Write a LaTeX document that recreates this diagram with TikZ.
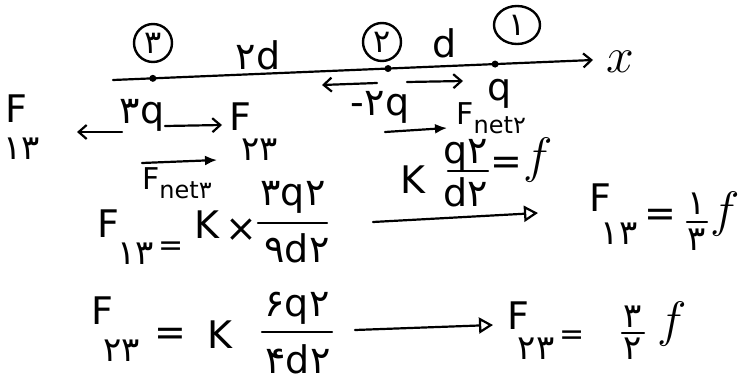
\documentclass[tikz,border=0pt]{standalone}
\usepackage{fontspec}
\setmainfont{DejaVu Sans}
\newfontfamily\fa[Script=Arabic]{DejaVu Sans}
\usetikzlibrary{arrows.meta, positioning, shapes.geometric, calc}
% Persian digits
\newcommand{\pd}[1]{{\fa #1}}

\tikzset{
    lbl/.style={font=\fontsize{19}{21}\selectfont, inner sep=0pt},
    small/.style={font=\fontsize{15}{16}\selectfont, inner sep=0pt},
    sub/.style={font=\fontsize{17}{18}\selectfont, inner sep=0pt},
    funit/.style={font=\fontsize{27}{28}\selectfont, inner sep=0pt},
    numtag/.style={circle, draw, line width=1.2pt, minimum size=19pt, inner sep=0pt, font=\fontsize{16}{17}\selectfont},
    charge/.style={circle, fill, inner sep=0pt, minimum size=3.5pt},
    force/.style={line width=1.1pt, -{Straight Barb[length=4pt, width=7pt]}},
    implies/.style={line width=1.1pt, -{Triangle[open, length=7pt, width=8pt, line width=1.1pt]}},
    netarr/.style={line width=1.1pt, -{Latex[length=6pt, width=5pt]}},
    fracbar/.style={line width=1.1pt}
}

\begin{document}
\begin{tikzpicture}[x=0.5pt, y=-0.5pt, line cap=round]
    \useasboundingbox (0,0) rectangle (744,385);

    % x axis and the three charges on it
    \coordinate (axL) at (113,80);
    \coordinate (axR) at (593,60);
    \draw[force] (axL) -- (axR);
    \node[funit] (xlab) at (620,62) {$x$};
    \foreach \t/\n in {0.083/3, 0.573/2, 0.796/1} {
        \node[charge] (q\n) at ($(axL)!\t!(axR)$) {};
    }

    % charge numbers and distances
    \node[numtag] (n3) at (153,43) {\pd{۳}};
    \node[numtag] (n2) at (382,42) {\pd{۲}};
    \node[numtag, ellipse, minimum width=23pt, minimum height=19pt] (n1) at (517,25) {\pd{۱}};
    \node[lbl] (d32) at (258,55) {\pd{۲}d};
    \node[lbl] (d21) at (445,43) {d};

    % charge values
    \node[lbl] (l3) at (142,115) {\pd{۳}q};
    \node[lbl] (l2) at (380,107) {-\pd{۲}q};
    \node[lbl] (l1) at (500,94) {q};

    % forces on charge 3
    \coordinate (s13) at (122,132);
    \coordinate (t13) at (77,132);
    \coordinate (s23) at (165,126);
    \coordinate (t23) at (222,125);
    \draw[force] (s13) -- (t13);
    \draw[force] (s23) -- (t23);
    \node[lbl] (F13L) at (16,109) {F};
    \node[sub] (F13Ls) at (22,149) {\pd{۱۳}};
    \node[lbl] (F23L) at (240,117) {F};
    \node[sub] (F23Ls) at (260,150) {\pd{۲۳}};
    \coordinate (sn3) at (142,163);
    \coordinate (tn3) at (217,160);
    \draw[netarr] (sn3) -- (tn3);
    \node[small] (Fn3) at (177,183) {F\raisebox{-0.3em}{\fontsize{12}{12}\selectfont net\pd{۳}}};

    % forces on charge 2
    \coordinate (s12) at (377,83);
    \coordinate (t12) at (322,85);
    \coordinate (s32) at (407,82);
    \coordinate (t32) at (463,81);
    \draw[force] (s12) -- (t12);
    \draw[force] (s32) -- (t32);
    \coordinate (sn2) at (385,132);
    \coordinate (tn2) at (447,128);
    \draw[netarr] (sn2) -- (tn2);
    \node[small, anchor=west] (Fn2) at (456,118) {F\raisebox{-0.3em}{\fontsize{12}{12}\selectfont net\pd{۲}}};

    % unit force f
    \node[lbl] (k0) at (413,180) {K};
    \node[lbl] (nf) at (466,155) {q\pd{۲}};
    \node[lbl] (df) at (466,192) {d\pd{۲}};
    \draw[fracbar] (448,171) -- (488,171);
    \node[lbl] (ef) at (506,166) {=};
    \node[funit] (ff) at (538,160) {$f$};

    % F13
    \node[lbl] (F13) at (108,224) {F};
    \node[sub] (F13s) at (136,254) {\pd{۱۳}};
    \node[small] (e13) at (171,249) {=};
    \node[lbl] (k13) at (207,225) {K};
    \node[lbl] (x13) at (241,230) {×};
    \node[lbl] (num13) at (293,197) {\pd{۳}q\pd{۲}};
    \node[lbl] (den13) at (297,248) {\pd{۹}d\pd{۲}};
    \draw[fracbar] (258,223) -- (327,223);
    \coordinate (a13) at (373,222);
    \coordinate (b13) at (538,213);
    \draw[implies] (a13) -- (b13);
    \node[lbl] (R13) at (600,198) {F};
    \node[sub] (R13s) at (619,234) {\pd{۱۳}};
    \node[lbl] (re13) at (660,218) {=};
    \node[sub] (rn13) at (697,204) {\pd{۱}};
    \node[sub] (rd13) at (697,240) {\pd{۳}};
    \draw[fracbar] (687,222) -- (707,222);
    \node[funit] (rf13) at (725,214) {$f$};

    % F23
    \node[lbl] (F23) at (102,311) {F};
    \node[sub] (F23s) at (122,351) {\pd{۲۳}};
    \node[lbl] (e23) at (170,337) {=};
    \node[lbl] (k23) at (220,335) {K};
    \node[lbl] (num23) at (297,308) {\pd{۶}q\pd{۲}};
    \node[lbl] (den23) at (298,359) {\pd{۴}d\pd{۲}};
    \draw[fracbar] (262,332) -- (332,332);
    \coordinate (a23) at (355,330);
    \coordinate (b23) at (493,325);
    \draw[implies] (a23) -- (b23);
    \node[lbl] (R23) at (518,316) {F};
    \node[sub] (R23s) at (536,349) {\pd{۲۳}};
    \node[small] (re23) at (572,338) {=};
    \node[sub] (rn23) at (633,317) {\pd{۳}};
    \node[sub] (rd23) at (633,349) {\pd{۲}};
    \draw[fracbar] (622,333) -- (644,333);
    \node[funit] (rf23) at (672,324) {$f$};
\end{tikzpicture}
\end{document}
